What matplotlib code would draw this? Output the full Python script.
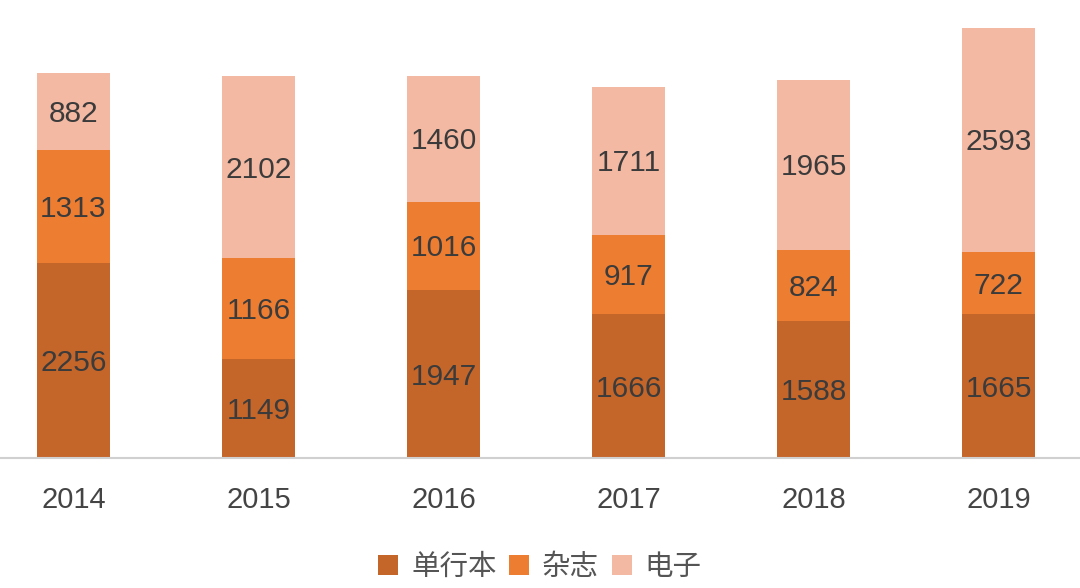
import matplotlib
matplotlib.use("Agg")
import matplotlib.pyplot as plt
import numpy as np

years = ["2014", "2015", "2016", "2017", "2018", "2019"]
tankobon = [2256, 1149, 1947, 1666, 1588, 1665]
magazine = [1313, 1166, 1016, 917, 824, 722]
digital = [882, 2102, 1460, 1711, 1965, 2593]

series_names = ["单行本", "杂志", "电子"]
colors = ["#C4652A", "#ED7D31", "#F4B9A3"]

plt.rcParams['font.family'] = ['Liberation Sans', 'Noto Sans CJK SC', 'DejaVu Sans']

fig = plt.figure(figsize=(10.8, 5.88), dpi=100)
ax = fig.add_axes([0, 0.221, 1, 0.779])

x = np.arange(len(years))
bottom = np.zeros(len(years))
for vals, name, c in zip([tankobon, magazine, digital], series_names, colors):
    vals = np.array(vals)
    ax.bar(x, vals, width=0.395, bottom=bottom, color=c, label=name)
    for xi, b, v in zip(x, bottom, vals):
        ax.text(xi, b + v / 2 - 30, str(v), ha="center", va="center",
                fontsize=21.5, color="#3b3b3b")
    bottom += vals

ax.set_xlim(-0.397, 5.44)
ax.set_ylim(0, 5300)
ax.set_yticks([])
ax.set_xticks(x)
ax.set_xticklabels(years, fontsize=21, color="#444444")
ax.tick_params(axis="x", length=0, pad=20)
for s in ["top", "right", "left"]:
    ax.spines[s].set_visible(False)
ax.spines["bottom"].set_color("#d0d0d0")
ax.spines["bottom"].set_linewidth(1.5)

fig.legend(loc="center", bbox_to_anchor=(0.5, 0.036), ncol=3, frameon=False,
           prop={"family": ["Noto Sans CJK SC", "DejaVu Sans"], "size": 20.5},
           labelcolor="#555555", handlelength=0.7, handleheight=0.7,
           handletextpad=0.45, columnspacing=0.45)

fig.savefig("out.png", dpi=100)
